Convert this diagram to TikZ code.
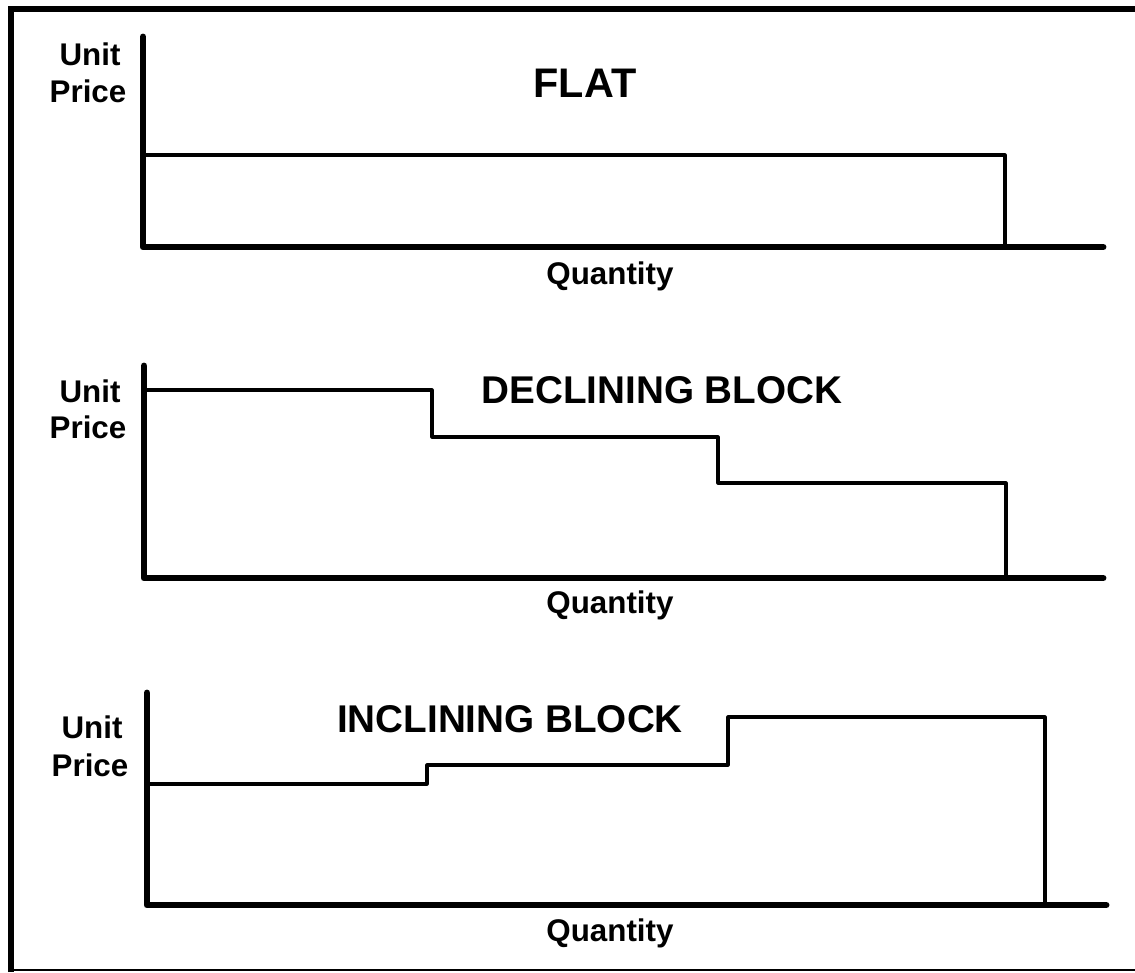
\documentclass[tikz,border=0pt]{standalone}
\usepackage{fontspec}
\setmainfont{Liberation Sans}
\newcommand{\axiswidth}{5.2pt}
\newcommand{\ratewidth}{2.3pt}
\newcommand{\labelfont}{\fontsize{23.5}{26}\selectfont\bfseries}
\newcommand{\titlefont}{\fontsize{29}{32}\selectfont\bfseries}
\tikzset{
  axisline/.style={line width=\axiswidth, line cap=round, line join=round},
  rateline/.style={line width=\ratewidth, line join=round},
  axislabel/.style={anchor=base, inner sep=0pt, font=\labelfont},
  charttitle/.style={anchor=base, inner sep=0pt, font=\titlefont}
}

\begin{document}
\begin{tikzpicture}[x=0.75pt, y=-0.75pt]
\useasboundingbox (0,0) rectangle (1135,972);

% Frame
\draw[line width=4.5pt] (11,972) -- (11,9) -- (1135,9);
\draw[line width=1.5pt] (11,970) -- (1135,970);

% Flat rate
\draw[axisline] (143,37) -- (143,247) -- (1103,247);
\draw[rateline] (143,155) -- (1005,155) -- (1005,247);
\node (unitA) [axislabel] at (90,65) {Unit};
\node (priceA) [axislabel] at (88,102) {Price};
\node (flat) [charttitle, font=\fontsize{31}{34}\selectfont\bfseries] at (585,97) {FLAT};
\node (qtyA) [axislabel] at (610,284) {Quantity};

% Declining block rate
\draw[axisline] (144,366) -- (144,578) -- (1103,578);
\draw[rateline] (144,390) -- (432,390) -- (432,437) -- (718,437) -- (718,483) -- (1006,483) -- (1006,578);
\node (unitB) [axislabel] at (90,402) {Unit};
\node (priceB) [axislabel] at (88,438) {Price};
\node (declining) [charttitle] at (662,403) {DECLINING BLOCK};
\node (qtyB) [axislabel] at (610,613) {Quantity};

% Inclining block rate
\draw[axisline] (147,693) -- (147,905) -- (1106,905);
\draw[rateline] (147,784) -- (427,784) -- (427,765) -- (728,765) -- (728,717) -- (1045,717) -- (1045,905);
\node (unitC) [axislabel] at (92,738) {Unit};
\node (priceC) [axislabel] at (90,776) {Price};
\node (inclining) [charttitle] at (510,732) {INCLINING BLOCK};
\node (qtyC) [axislabel] at (610,941) {Quantity};

\end{tikzpicture}
\end{document}
